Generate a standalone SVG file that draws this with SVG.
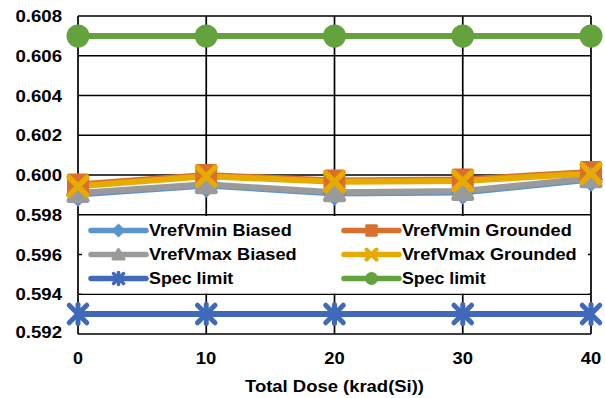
<svg xmlns="http://www.w3.org/2000/svg" width="605" height="398" viewBox="0 0 605 398">
<style>
text{font-family:"Liberation Sans",Arial,sans-serif;font-weight:bold;font-size:16.5px;fill:#000}
.grid{stroke:#000;stroke-width:1.7;fill:none}
.ln{fill:none;stroke-width:6;stroke-linejoin:round;stroke-linecap:round}
.lg{fill:none;stroke-width:5.5;stroke-linecap:round}
.c1{stroke:#5A95CE;fill:#5A95CE}
.c2{stroke:#D8702C;fill:#D8702C}
.c3{stroke:#9A9A9A;fill:#9A9A9A}
.c4{stroke:#E6AA00;fill:#E6AA00}
.c5{stroke:#4169BA;fill:#4169BA}
.c6{stroke:#64A23E;fill:#64A23E}
</style>
<defs>
<polygon id="dia" points="0,-11 11,0 0,11 -11,0" stroke-width="2" stroke-linejoin="round"/>
<rect id="sq" x="-9" y="-9" width="18" height="18" stroke-width="4" stroke-linejoin="round"/>
<polygon id="tri" points="0,-8.5 9,7.5 -9,7.5" stroke-width="5" stroke-linejoin="round"/>
<g id="xm" stroke-width="5.5" stroke-linecap="round"><line x1="-8.8" y1="-8.8" x2="8.8" y2="8.8"/><line x1="-8.8" y1="8.8" x2="8.8" y2="-8.8"/></g>
<g id="st" stroke-width="5" stroke-linecap="round"><line x1="-8.8" y1="-8.8" x2="8.8" y2="8.8"/><line x1="-8.8" y1="8.8" x2="8.8" y2="-8.8"/><line x1="0" y1="-9.5" x2="0" y2="9.5"/></g>
<circle id="ci" r="11.5" stroke="none"/>
<polygon id="dia-s" points="0,-6 6,0 0,6 -6,0" stroke-width="1.5"/>
<rect id="sq-s" x="-5" y="-5" width="10" height="10" stroke-width="2.5" stroke-linejoin="round"/>
<polygon id="tri-s" points="0,-5 5.5,4.5 -5.5,4.5" stroke-width="3" stroke-linejoin="round"/>
<g id="xm-s" stroke-width="4" stroke-linecap="round"><line x1="-5" y1="-5" x2="5" y2="5"/><line x1="-5" y1="5" x2="5" y2="-5"/></g>
<g id="st-s" stroke-width="3.5" stroke-linecap="round"><line x1="-5" y1="-5" x2="5" y2="5"/><line x1="-5" y1="5" x2="5" y2="-5"/><line x1="0" y1="-6" x2="0" y2="6"/></g>
<circle id="ci-s" r="6.5" stroke="none"/>
</defs>

<g id="plot-area">
<path class="grid" d="M78,16H591M78,55.75H591M78,95.5H591M78,135.25H591M78,175H591M78,214.75H591M78,254.5H591M78,294.25H591M78,334H591"/>
<path class="grid" d="M78,16V334M206.25,16V334M334.5,16V334M462.75,16V334M591,16V334"/>
</g>

<g id="axis-labels">
<text x="62" y="22" text-anchor="end" textLength="46.5" lengthAdjust="spacingAndGlyphs">0.608</text>
<text x="62" y="61.75" text-anchor="end" textLength="46.5" lengthAdjust="spacingAndGlyphs">0.606</text>
<text x="62" y="101.5" text-anchor="end" textLength="46.5" lengthAdjust="spacingAndGlyphs">0.604</text>
<text x="62" y="141.25" text-anchor="end" textLength="46.5" lengthAdjust="spacingAndGlyphs">0.602</text>
<text x="62" y="181" text-anchor="end" textLength="46.5" lengthAdjust="spacingAndGlyphs">0.600</text>
<text x="62" y="220.75" text-anchor="end" textLength="46.5" lengthAdjust="spacingAndGlyphs">0.598</text>
<text x="62" y="260.5" text-anchor="end" textLength="46.5" lengthAdjust="spacingAndGlyphs">0.596</text>
<text x="62" y="300.25" text-anchor="end" textLength="46.5" lengthAdjust="spacingAndGlyphs">0.594</text>
<text x="62" y="338" text-anchor="end" textLength="46.5" lengthAdjust="spacingAndGlyphs">0.592</text>
<text x="78" y="363.5" text-anchor="middle" textLength="10" lengthAdjust="spacingAndGlyphs">0</text>
<text x="206" y="363.5" text-anchor="middle" textLength="20.5" lengthAdjust="spacingAndGlyphs">10</text>
<text x="334.5" y="363.5" text-anchor="middle" textLength="20.5" lengthAdjust="spacingAndGlyphs">20</text>
<text x="462.75" y="363.5" text-anchor="middle" textLength="20.5" lengthAdjust="spacingAndGlyphs">30</text>
<text x="591" y="363.5" text-anchor="middle" textLength="20.5" lengthAdjust="spacingAndGlyphs">40</text>
<text x="334.5" y="391.5" text-anchor="middle" textLength="179" lengthAdjust="spacingAndGlyphs">Total Dose (krad(Si))</text>
</g>

<g id="legend">
<rect x="82" y="216" width="506" height="77.5" fill="#fff"/>
<line class="lg c1" x1="91" y1="230.5" x2="146" y2="230.5"/><use href="#dia-s" class="c1" x="118.5" y="230.5"/>
<text x="149" y="236" textLength="142.7" lengthAdjust="spacingAndGlyphs">VrefVmin Biased</text>
<line class="lg c3" x1="91" y1="254.5" x2="146" y2="254.5"/><use href="#tri-s" class="c3" x="118.5" y="254.5"/>
<text x="149" y="260" textLength="147.7" lengthAdjust="spacingAndGlyphs">VrefVmax Biased</text>
<line class="lg c5" x1="91" y1="278.5" x2="146" y2="278.5"/><use href="#st-s" class="c5" x="118.5" y="278.5"/>
<text x="149" y="284" textLength="84.3" lengthAdjust="spacingAndGlyphs">Spec limit</text>
<line class="lg c2" x1="344" y1="230.5" x2="399" y2="230.5"/><use href="#sq-s" class="c2" x="371.5" y="230.5"/>
<text x="402" y="236" textLength="169.7" lengthAdjust="spacingAndGlyphs">VrefVmin Grounded</text>
<line class="lg c4" x1="344" y1="254.5" x2="399" y2="254.5"/><use href="#xm-s" class="c4" x="371.5" y="254.5"/>
<text x="402" y="260" textLength="174.7" lengthAdjust="spacingAndGlyphs">VrefVmax Grounded</text>
<line class="lg c6" x1="344" y1="278.5" x2="399" y2="278.5"/><use href="#ci-s" class="c6" x="371.5" y="278.5"/>
<text x="402" y="284" textLength="83.7" lengthAdjust="spacingAndGlyphs">Spec limit</text>
</g>

<g id="connectors">
<polyline class="ln c1" points="78,194.5 206.25,185.5 334.5,193.5 462.75,192.5 591,179.5" style="fill:none"/>
<polyline class="ln c2" points="78,184.5 206.25,175 334.5,180.5 462.75,179.5 591,172" style="fill:none"/>
<polyline class="ln c3" points="78,193 206.25,184.3 334.5,192.3 462.75,191 591,178.3" style="fill:none"/>
<polyline class="ln c4" points="78,186.3 206.25,176.3 334.5,181.7 462.75,181 591,173.5" style="fill:none"/>
<polyline class="ln c5" points="78,314 591,314" style="fill:none"/>
<polyline class="ln c6" points="78,36 591,36" style="fill:none"/>
</g>

<g id="series-vrefvmin-biased" class="c1">
<use href="#dia" x="78" y="194.5"/><use href="#dia" x="206.25" y="185.5"/><use href="#dia" x="334.5" y="193.5"/><use href="#dia" x="462.75" y="192.5"/><use href="#dia" x="591" y="179.5"/>
</g>
<g id="series-vrefvmin-grounded" class="c2">
<use href="#sq" x="78" y="184.5"/><use href="#sq" x="206.25" y="175"/><use href="#sq" x="334.5" y="180.5"/><use href="#sq" x="462.75" y="179.5"/><use href="#sq" x="591" y="172"/>
</g>
<g id="series-vrefvmax-biased" class="c3">
<use href="#tri" x="78" y="193"/><use href="#tri" x="206.25" y="184.3"/><use href="#tri" x="334.5" y="192.3"/><use href="#tri" x="462.75" y="191"/><use href="#tri" x="591" y="178.3"/>
</g>
<g id="series-vrefvmax-grounded" class="c4">
<use href="#xm" x="78" y="186.3"/><use href="#xm" x="206.25" y="176.3"/><use href="#xm" x="334.5" y="181.7"/><use href="#xm" x="462.75" y="181"/><use href="#xm" x="591" y="173.5"/>
</g>
<g id="series-spec-low" class="c5">
<use href="#st" x="78" y="314"/><use href="#st" x="206.25" y="314"/><use href="#st" x="334.5" y="314"/><use href="#st" x="462.75" y="314"/><use href="#st" x="591" y="314"/>
</g>
<g id="series-spec-high" class="c6">
<use href="#ci" x="78" y="36"/><use href="#ci" x="206.25" y="36"/><use href="#ci" x="334.5" y="36"/><use href="#ci" x="462.75" y="36"/><use href="#ci" x="591" y="36"/>
</g>
</svg>
